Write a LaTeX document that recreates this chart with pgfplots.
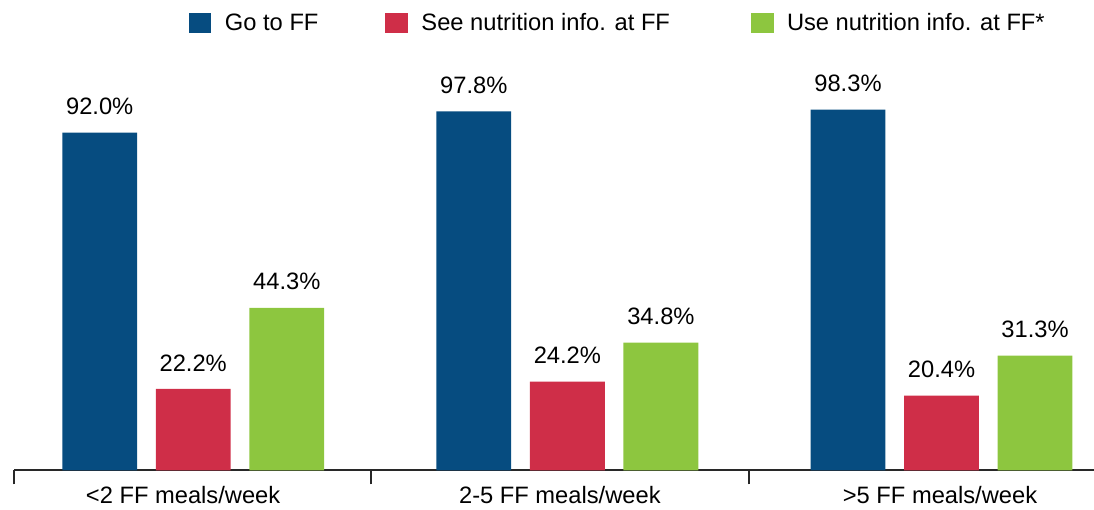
\documentclass[border=0pt]{standalone}
\usepackage{fontspec}
\setmainfont{Liberation Sans}
\usepackage{pgfplots}
\pgfplotsset{compat=1.18}
\definecolor{cblue}{RGB}{6,76,128}
\definecolor{cred}{RGB}{207,46,72}
\definecolor{cgreen}{RGB}{141,198,63}
\definecolor{caxis}{RGB}{40,40,40}
\begin{document}
\begin{tikzpicture}[font=\fontsize{23.7}{28}\selectfont]
\begin{axis}[
  at={(0,0)}, anchor=south west,
  scale only axis, width=1080pt, height=430.5pt,
  xmin=-0.479, xmax=2.4076, ymin=0, ymax=117.24,
  axis x line=bottom, axis y line=none,
  x axis line style={-, line width=2pt, draw=caxis},
  xtick={-0.479,0.475,1.485}, xticklabels={},
  tick align=outside, major tick length=14pt,
  x tick style={line width=2pt, draw=caxis},
  extra x ticks={-0.027,0.980,1.996},
  extra x tick labels={<2 FF meals/week, 2-5 FF meals/week, >5 FF meals/week},
  extra x tick style={major tick length=0pt, tick style={draw=none}},
  xticklabel style={font=\fontsize{23.7}{28}\selectfont, inner sep=0pt, yshift=-16pt},
  /pgf/number format/assume math mode=true,
  bar width=0.2,
  nodes near coords={\pgfmathprintnumber[fixed,fixed zerofill,precision=1]{\pgfplotspointmeta}\%},
  every node near coord/.append style={font=\fontsize{23.7}{28}\selectfont, inner sep=0pt, yshift=17.5pt, anchor=south, text=black},
  legend columns=3,
  legend cell align=left,
  legend image code/.code={\fill[#1] (0pt,-10pt) rectangle (22.5pt,10pt);},
  legend style={draw=none, fill=none, at={(0.162,1.0395)}, anchor=west,
    inner sep=0pt, outer sep=0pt, nodes={inner sep=0pt},
    font=\fontsize{23.7}{28}\selectfont,
    /tikz/every odd column/.append style={column sep=13.5pt},
    /tikz/column 2/.style={column sep=67pt},
    /tikz/column 4/.style={column sep=81pt}},
]
\addplot[ybar, bar shift=0pt, fill=cblue, draw=none] coordinates {(-0.25,92.0) (0.75,97.8) (1.75,98.3)};
\addplot[ybar, bar shift=0pt, fill=cred, draw=none] coordinates {(0,22.2) (1,24.2) (2,20.4)};
\addplot[ybar, bar shift=0pt, fill=cgreen, draw=none] coordinates {(0.25,44.3) (1.25,34.8) (2.25,31.3)};
\legend{Go to FF, See nutrition info. at FF, Use nutrition info. at FF*}
\end{axis}
\pgfresetboundingbox
\path[use as bounding box] (-14pt,-39.5pt) rectangle (1080pt,470.5pt);
\end{tikzpicture}
\end{document}
